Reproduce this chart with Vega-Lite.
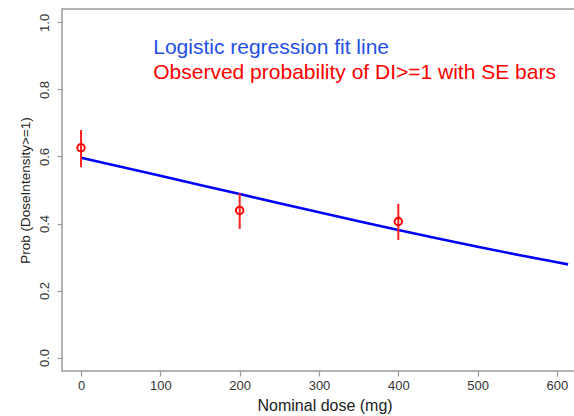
{
  "$schema": "https://vega.github.io/schema/vega-lite/v6.json",
  "autosize": {"type": "none"},
  "padding": {"left": 62, "top": 9, "right": 0, "bottom": 45},
  "width": 514,
  "height": 362,
  "background": "white",
  "config": {
    "font": "Liberation Sans",
    "view": {"stroke": "#9a9a9a", "strokeWidth": 1.5}
  },
  "datasets": {
    "fit": [
      {"dose": 0, "p": 0.596},
      {"dose": 50, "p": 0.5694},
      {"dose": 100, "p": 0.5425},
      {"dose": 150, "p": 0.5152},
      {"dose": 200, "p": 0.4879},
      {"dose": 250, "p": 0.4606},
      {"dose": 300, "p": 0.4336},
      {"dose": 350, "p": 0.4069},
      {"dose": 400, "p": 0.3808},
      {"dose": 450, "p": 0.3554},
      {"dose": 500, "p": 0.3307},
      {"dose": 550, "p": 0.307},
      {"dose": 600, "p": 0.2843},
      {"dose": 614, "p": 0.2781}
    ],
    "obs": [
      {"dose": 0, "p": 0.626, "lo": 0.568, "hi": 0.679},
      {"dose": 200, "p": 0.439, "lo": 0.384, "hi": 0.49},
      {"dose": 400, "p": 0.406, "lo": 0.351, "hi": 0.459}
    ],
    "labels": [
      {"dose": 91, "p": 0.905, "label": "Logistic regression fit line", "series": "fit"},
      {"dose": 91, "p": 0.83, "label": "Observed probability of DI>=1 with SE bars", "series": "obs"}
    ]
  },
  "layer": [
    {
      "data": {"name": "fit"},
      "mark": {"type": "line", "color": "#0000ff", "strokeWidth": 2.6},
      "encoding": {
        "x": {
          "field": "dose", "type": "quantitative",
          "scale": {"domain": [-24, 624], "nice": false, "zero": false},
          "axis": {
            "values": [0, 100, 200, 300, 400, 500, 600],
            "domain": false, "grid": false,
            "tickColor": "#9a9a9a", "tickSize": 5, "tickWidth": 1.2,
            "labelFontSize": 13, "labelColor": "#333333", "labelPadding": 3,
            "labelFlush": false, "labelOverlap": false,
            "title": "Nominal dose (mg)", "titleFontSize": 16, "titleFontWeight": "normal",
            "titleColor": "#222222", "titleX": 262.6, "titleY": 39,
            "titleAlign": "center", "titleBaseline": "alphabetic"
          }
        },
        "y": {
          "field": "p", "type": "quantitative",
          "scale": {"domain": [-0.04, 1.04], "nice": false, "zero": false},
          "axis": {
            "values": [0, 0.2, 0.4, 0.6, 0.8, 1.0],
            "format": ".1f",
            "domain": false, "grid": false,
            "tickColor": "#9a9a9a", "tickSize": 5, "tickWidth": 1.2,
            "labelFontSize": 13, "labelColor": "#333333", "labelPadding": 8.5,
            "labelAngle": 270, "labelAlign": "center", "labelBaseline": "alphabetic",
            "labelFlush": false, "labelOverlap": false,
            "title": "Prob (DoseIntensity>=1)", "titleFontSize": 13.5, "titleFontWeight": "normal",
            "titleColor": "#222222", "titleAngle": 270, "titleX": -33, "titleY": 181,
            "titleAlign": "center", "titleBaseline": "alphabetic"
          }
        }
      }
    },
    {
      "data": {"name": "obs"},
      "mark": {"type": "rule", "color": "#ff2020", "strokeWidth": 2},
      "encoding": {
        "x": {"field": "dose", "type": "quantitative"},
        "y": {"field": "lo", "type": "quantitative"},
        "y2": {"field": "hi"}
      }
    },
    {
      "data": {"name": "obs"},
      "mark": {"type": "point", "shape": "circle", "filled": false, "color": "#ff0000", "strokeWidth": 2, "size": 55, "opacity": 1},
      "encoding": {
        "x": {"field": "dose", "type": "quantitative"},
        "y": {"field": "p", "type": "quantitative"}
      }
    },
    {
      "data": {"name": "labels"},
      "mark": {"type": "text", "align": "left", "baseline": "alphabetic", "fontSize": 21},
      "encoding": {
        "x": {"field": "dose", "type": "quantitative"},
        "y": {"field": "p", "type": "quantitative"},
        "text": {"field": "label"},
        "color": {
          "field": "series", "type": "nominal",
          "scale": {"domain": ["fit", "obs"], "range": ["#1f4fe6", "#ff0000"]},
          "legend": null
        }
      }
    }
  ]
}
